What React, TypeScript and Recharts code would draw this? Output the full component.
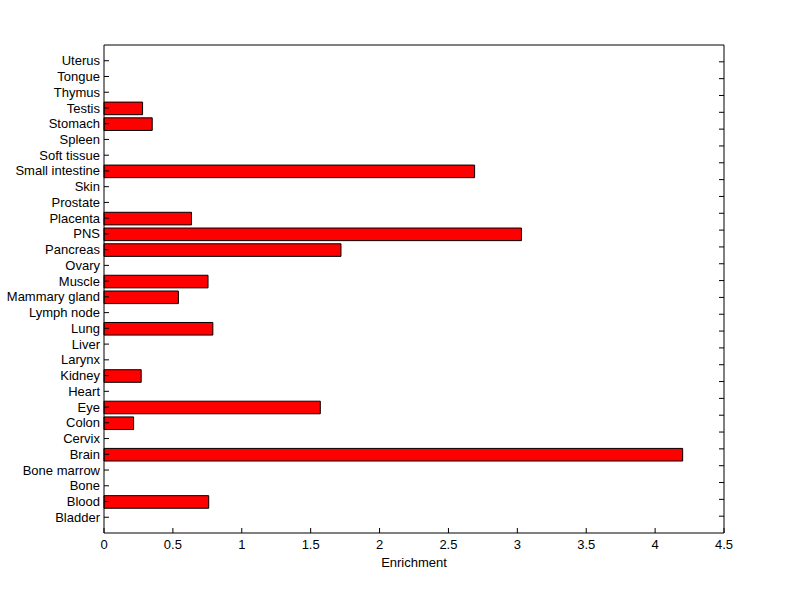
import React from 'react';
import { BarChart, Bar, XAxis, YAxis } from 'recharts';

// tissue names, bottom to top
const tissues = [
  'Bladder', 'Blood', 'Bone', 'Bone marrow', 'Brain', 'Cervix', 'Colon', 'Eye', 'Heart', 'Kidney',
  'Larynx', 'Liver', 'Lung', 'Lymph node', 'Mammary gland', 'Muscle', 'Ovary', 'Pancreas', 'PNS', 'Placenta',
  'Prostate', 'Skin', 'Small intestine', 'Soft tissue', 'Spleen', 'Stomach', 'Testis', 'Thymus', 'Tongue', 'Uterus',
];

const enrichment = [
  0, 0.76, 0, 0, 4.2, 0, 0.215, 1.57, 0, 0.27,
  0, 0, 0.79, 0, 0.54, 0.755, 0, 1.72, 3.03, 0.635,
  0, 0, 2.69, 0, 0, 0.35, 0.28, 0, 0, 0,
];

const xTicks = [0, 0.5, 1, 1.5, 2, 2.5, 3, 3.5, 4, 4.5];
const yTicks = tissues.map((_, i) => i + 1);

const data = tissues.map((name, i) => ({ pos: i + 1, name, value: enrichment[i] }));

const FONT = '"Liberation Sans", Arial, sans-serif';

const LeftTick = ({ x, y, payload }: any) => (
  <g>
    <line x1={x} x2={x + 5} y1={y} y2={y} stroke="#000" />
    <text x={x - 4} y={y} dy="0.35em" textAnchor="end" fontSize={13} fontFamily={FONT} fill="#000">
      {tissues[payload.value - 1]}
    </text>
  </g>
);

// only the ticks that fall inside the box
const RightTick = ({ x, y, payload }: any) =>
  payload && yTicks.includes(payload.value) && y > 46 && y < 532 ? (
    <line x1={x - 5} x2={x} y1={y} y2={y} stroke="#000" />
  ) : (
    <g />
  );

const BottomTick = ({ x, y, payload }: any) => (
  <g>
    <line x1={x} x2={x} y1={y - 5} y2={y} stroke="#000" />
    <text x={x} y={y + 7} dy="0.71em" textAnchor="middle" fontSize={13} fontFamily={FONT} fill="#000">
      {payload.value}
    </text>
  </g>
);

const TopTick = ({ x, y }: any) => <line x1={x} x2={x} y1={y} y2={y + 5} stroke="#000" />;

export default function App() {
  return (
    <div style={{ position: 'absolute', left: 0, top: 0, background: '#fff' }}>
      <BarChart
        width={800}
        height={599}
        data={data}
        layout="vertical"
        margin={{ top: 0, right: 0, bottom: 0, left: 0 }}
      >
        <XAxis
          xAxisId="bottom"
          type="number"
          domain={[0, 4.5]}
          ticks={xTicks}
          orientation="bottom"
          height={66}
          axisLine={{ stroke: '#000' }}
          tickLine={false}
          tickSize={0}
          tickMargin={0}
          tick={<BottomTick />}
          interval={0}
          label={{ value: 'Enrichment', position: 'insideBottom', offset: 32, fill: '#000', fontSize: 13, fontFamily: FONT }}
        />
        <XAxis
          xAxisId="top"
          type="number"
          domain={[0, 4.5]}
          ticks={xTicks}
          orientation="top"
          height={45}
          axisLine={{ stroke: '#000' }}
          tickLine={false}
          tickSize={0}
          tickMargin={0}
          tick={<TopTick />}
          interval={0}
        />
        <YAxis
          yAxisId="left"
          type="number"
          dataKey="pos"
          domain={[0, 31]}
          ticks={yTicks}
          reversed
          orientation="left"
          width={104}
          axisLine={{ stroke: '#000' }}
          tickLine={false}
          tickSize={0}
          tickMargin={0}
          tick={<LeftTick />}
          interval={0}
        />
        <YAxis
          yAxisId="right"
          type="number"
          domain={[0, 31]}
          ticks={yTicks}
          reversed
          orientation="right"
          width={76}
          axisLine={{ stroke: '#000' }}
          tickLine={false}
          tickSize={0}
          tickMargin={0}
          tick={<RightTick />}
          interval={0}
        />
        <Bar
          xAxisId="bottom"
          yAxisId="left"
          dataKey="value"
          fill="#ff0000"
          stroke="#000"
          strokeWidth={1}
          barSize={12.6}
          isAnimationActive={false}
        />
      </BarChart>
    </div>
  );
}
